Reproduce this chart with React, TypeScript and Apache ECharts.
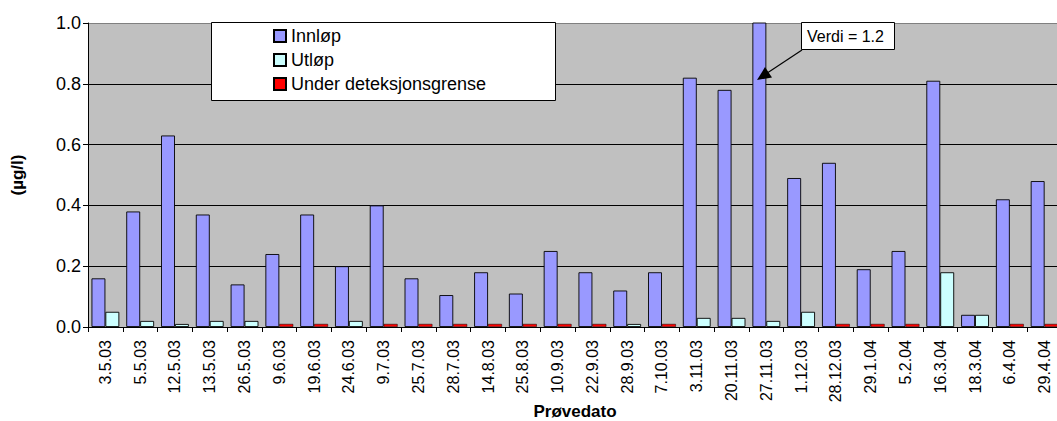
import React, { useEffect, useRef } from "react";
import * as echarts from "echarts";

const categories = [
  "3.5.03", "5.5.03", "12.5.03", "13.5.03", "26.5.03", "9.6.03", "19.6.03",
  "24.6.03", "9.7.03", "25.7.03", "28.7.03", "14.8.03", "25.8.03", "10.9.03",
  "22.9.03", "28.9.03", "7.10.03", "3.11.03", "20.11.03", "27.11.03", "1.12.03",
  "28.12.03", "29.1.04", "5.2.04", "16.3.04", "18.3.04", "6.4.04", "29.4.04",
];

const innlop = [
  0.16, 0.38, 0.63, 0.37, 0.14, 0.24, 0.37, 0.2, 0.4, 0.16, 0.105, 0.18, 0.11, 0.25,
  0.18, 0.12, 0.18, 0.82, 0.78, 1.2, 0.49, 0.54, 0.19, 0.25, 0.81, 0.04, 0.42, 0.48,
];

const utlop = [
  0.05, 0.02, 0.01, 0.02, 0.02, null, null, 0.02, null, null, null, null, null, null,
  null, 0.01, null, 0.03, 0.03, 0.02, 0.05, null, null, null, 0.18, 0.04, null, null,
];

const underDeteksjon = [
  null, null, null, null, null, 0.01, 0.01, null, 0.01, 0.01, 0.01, 0.01, 0.01, 0.01,
  0.01, null, 0.01, null, null, null, null, 0.01, 0.01, 0.01, null, null, 0.01, 0.01,
];

const yTicks = [0, 0.2, 0.4, 0.6, 0.8, 1.0];

const FONT = "Liberation Sans, Arial, sans-serif";

export default function App() {
  const ref = useRef<HTMLDivElement>(null);

  useEffect(() => {
    if (!ref.current) return;
    const chart = echarts.init(ref.current, null, { renderer: "svg" });
    const border = { borderColor: "#000", borderWidth: 0.9 };
    chart.setOption({
      animation: false,
      backgroundColor: "#fff",
      textStyle: { fontFamily: FONT, color: "#000" },
      grid: {
        left: 88,
        right: 18,
        top: 23,
        bottom: 94,
        backgroundColor: "#C0C0C0",
        show: true,
        borderWidth: 0,
        containLabel: false,
        outerBoundsMode: "none",
      },
      legend: {
        orient: "vertical",
        left: 273,
        top: 27,
        padding: 0,
        itemWidth: 12,
        itemHeight: 12,
        itemGap: 6,
        z: 6,
        icon: "rect",
        textStyle: { fontFamily: FONT, fontSize: 18, color: "#000" },
        data: ["Innløp", "Utløp", "Under deteksjonsgrense"],
      },
      xAxis: {
        type: "category",
        data: categories,
        name: "Prøvedato",
        nameLocation: "middle",
        nameGap: 76,
        nameMoveOverlap: false,
        nameTextStyle: { fontFamily: FONT, fontSize: 17, fontWeight: "bold", color: "#000", verticalAlign: "top" },
        axisLine: { lineStyle: { color: "#000", width: 1 } },
        axisTick: { show: true, length: 5, lineStyle: { color: "#000" } },
        axisLabel: { interval: 0, rotate: 90, margin: 13, fontSize: 16, color: "#000", fontFamily: FONT },
        splitLine: { show: false },
      },
      yAxis: {
        type: "value",
        min: 0,
        max: 1.0,
        interval: 0.2,
        name: "(µg/l)",
        nameLocation: "middle",
        nameGap: 62,
        nameTextStyle: { fontFamily: FONT, fontSize: 17, fontWeight: "bold", color: "#000" },
        axisLine: { show: true, lineStyle: { color: "#000", width: 1 } },
        axisTick: { show: true, length: 5, lineStyle: { color: "#000" } },
        axisLabel: {
          margin: 7,
          fontSize: 18,
          color: "#000",
          fontFamily: FONT,
          formatter: (v: number) => (yTicks.some((t) => Math.abs(t - v) < 1e-9) ? v.toFixed(1) : ""),
        },
        splitLine: {
          show: true,
          lineStyle: { color: ["#000", "#000", "#000", "#000", "#000", "#808080"], width: 1 },
        },
      },
      series: [
        {
          name: "Innløp",
          type: "bar",
          data: innlop,
          barCategoryGap: "20%",
          barGap: "0%",
          itemStyle: { color: "#9999FF", ...border },
        },
        {
          name: "Utløp",
          type: "bar",
          stack: "ut",
          data: utlop,
          barCategoryGap: "20%",
          barGap: "0%",
          itemStyle: { color: "#CCFFFF", ...border },
        },
        {
          name: "Under deteksjonsgrense",
          type: "bar",
          stack: "ut",
          data: underDeteksjon,
          barCategoryGap: "20%",
          barGap: "0%",
          itemStyle: { color: "#FF0000", borderColor: "#000", borderWidth: 0.5 },
        },
      ],
      graphic: [
        {
          type: "rect",
          z: 3,
          shape: { x: 211.5, y: 22.5, width: 344, height: 78 },
          style: { fill: "#fff", stroke: "#000", lineWidth: 1 },
        },
        {
          type: "rect",
          z: 10,
          shape: { x: 801.5, y: 22.5, width: 93, height: 27 },
          style: { fill: "#fff", stroke: "#000", lineWidth: 1 },
        },
        {
          type: "text",
          z: 11,
          x: 807,
          y: 36,
          style: { text: "Verdi = 1.2", fontFamily: FONT, fontSize: 16, fill: "#000", verticalAlign: "middle" },
        },
        {
          type: "line",
          z: 10,
          shape: { x1: 802, y1: 50, x2: 768, y2: 72.5 },
          style: { stroke: "#000", lineWidth: 1.2 },
        },
        {
          type: "polygon",
          z: 10,
          shape: { points: [[757, 80], [772, 77.5], [765, 67]] },
          style: { fill: "#000" },
        },
      ],
    });
    return () => chart.dispose();
  }, []);

  return (
    <div style={{ position: "fixed", left: 0, top: 0, width: 1057, height: 421, overflow: "hidden", background: "#fff" }}>
      <div ref={ref} style={{ width: 1080, height: 421 }} />
    </div>
  );
}
